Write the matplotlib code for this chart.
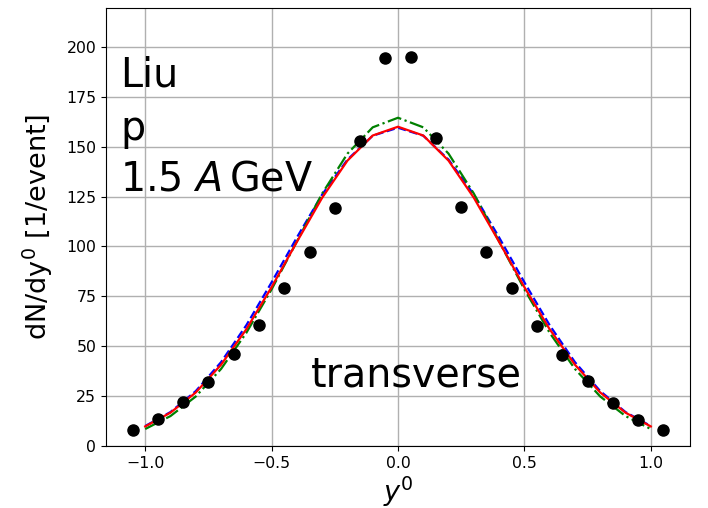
import numpy as np
import matplotlib
matplotlib.use('Agg')
import matplotlib.pyplot as plt

# data points (measured)
y_data_x = [-1.05, -0.95, -0.85, -0.75, -0.65, -0.55, -0.45, -0.35, -0.25, -0.15, -0.05,
            0.05, 0.15, 0.25, 0.35, 0.45, 0.55, 0.65, 0.75, 0.85, 0.95, 1.05]
y_data = [8, 13.5, 22, 32, 46, 60.5, 79, 97, 119.5, 153, 194.5,
          195, 154.5, 120, 97, 79, 60, 45.5, 32.5, 21.5, 13, 8]

# model curves
y_model = [-1.0, -0.9, -0.8, -0.7, -0.6, -0.5, -0.4, -0.3, -0.2, -0.1, 0.0,
           0.1, 0.2, 0.3, 0.4, 0.5, 0.6, 0.7, 0.8, 0.9, 1.0]
red = [9.8, 16.7, 26.8, 40.7, 58.5, 79.6, 102.3, 124.4, 143, 155.6, 160,
       155.6, 143, 124.4, 102.3, 79.6, 58.5, 40.7, 26.8, 16.7, 9.8]
blue = [10, 17, 27.5, 42, 60.5, 82, 104.5, 126, 143.5, 155.5, 159.5,
        155.5, 143.5, 126, 104.5, 82, 60.5, 42, 27.5, 17, 10]
green = [8.5, 15, 24.8, 38.6, 56.7, 78.5, 102.5, 126.5, 146.5, 159.7, 164.5,
         159.7, 146.5, 126.5, 102.5, 78.5, 56.7, 38.6, 24.8, 15, 8.5]

fig = plt.figure(figsize=(7.08, 5.08), dpi=100)
ax = fig.add_axes([106/708, 62/508, 584/708, 438/508])

ax.plot(y_data_x, y_data, 'o', color='black', markersize=8, zorder=5)
ax.plot(y_model, blue, '--', color='blue', lw=1.6)
ax.plot(y_model, green, '-.', color='green', lw=1.6)
ax.plot(y_model, red, '-', color='red', lw=1.6)

ax.set_ylim(0, 219.5)
ax.set_xticks([-1.0, -0.5, 0.0, 0.5, 1.0])
ax.set_yticks(np.arange(0, 201, 25))
ax.tick_params(labelsize=11.3)
ax.grid(True, color='#b0b0b0', lw=1)
ax.set_axisbelow(True)

ax.set_xlabel('$y^0$', fontsize=19.5, labelpad=3)
ax.set_ylabel('dN/dy$^0$ [1/event]', fontsize=19.5, labelpad=8)

ax.text(0.024, 0.820, 'Liu', transform=ax.transAxes, fontsize=28.5, va='baseline')
ax.text(0.024, 0.698, 'p', transform=ax.transAxes, fontsize=28.5, va='baseline')
ax.text(0.024, 0.583, '1.5 $A\\,$GeV', transform=ax.transAxes, fontsize=28.5, va='baseline')
ax.text(0.351, 0.135, 'transverse', transform=ax.transAxes, fontsize=28.5, va='baseline')

fig.savefig('out.png', dpi=100)
